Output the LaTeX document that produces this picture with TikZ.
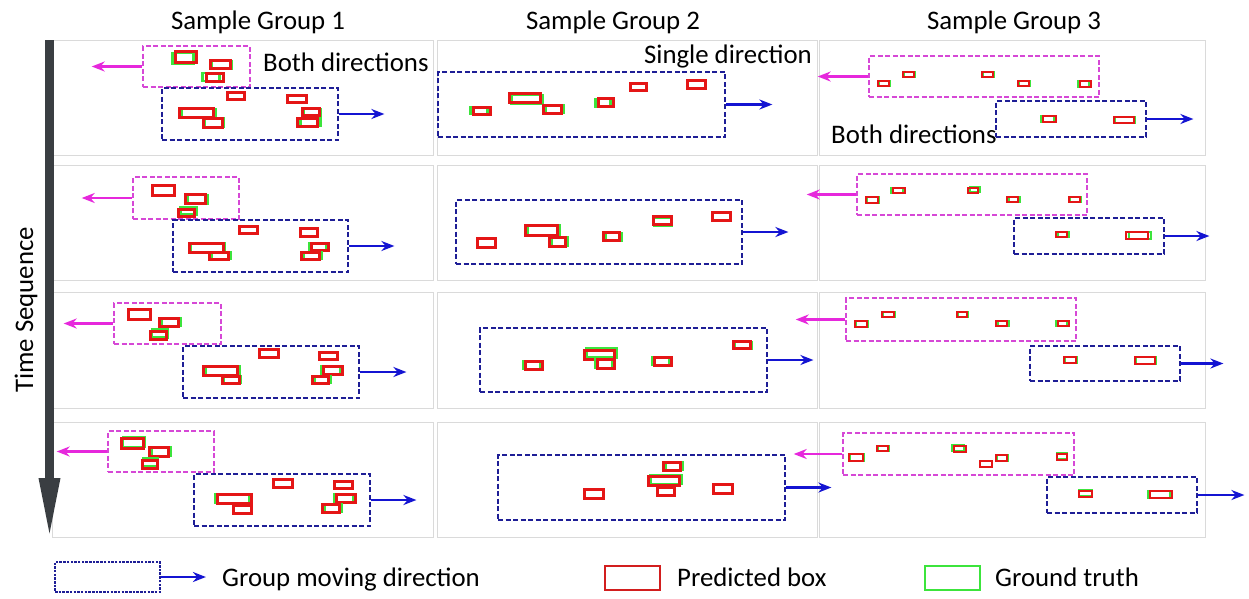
\documentclass[tikz,border=0pt]{standalone}
\usepackage{fontspec}
\setmainfont{Carlito}
\usetikzlibrary{fit,arrows.meta}
\definecolor{magc}{RGB}{214,72,214}
\definecolor{magarr}{RGB}{230,40,220}
\definecolor{bluec}{RGB}{30,30,150}
\definecolor{bluarr}{RGB}{20,20,210}
\definecolor{redc}{RGB}{228,22,22}
\definecolor{greenc}{RGB}{60,228,60}
\definecolor{tarrc}{RGB}{58,62,66}
\definecolor{panelc}{RGB}{218,218,218}
\tikzset{
  panel/.style={draw=panelc, line width=1pt},
  mgrp/.style={draw=magc, dash pattern=on 5pt off 2.5pt, line width=2.6pt, inner sep=0pt},
  bgrp/.style={draw=bluec, dash pattern=on 5pt off 2.5pt, line width=2.8pt, inner sep=0pt},
  marr/.style={draw=magarr, line width=2.3pt, -{Stealth[length=13pt,width=10pt]}},
  barr/.style={draw=bluarr, line width=2.3pt, -{Stealth[length=13pt,width=10pt]}},
  rbox/.style={draw=redc, line width=3pt},
  gbox/.style={draw=greenc, line width=2.6pt},
  small/.style={line width=2.2pt},
  lbl/.style={font=\fontsize{26.8}{32}\selectfont, inner sep=0pt},
  tarrow/.style={draw=tarrc, line width=9pt, -{Triangle[length=62pt,width=19pt]}},
}
\newcommand\bx[7][]{%
  \draw[gbox,#1,shift={({1.8*(#6)},{1.8*(#7)})}] (#2,#3) rectangle (#4,#5);
  \draw[rbox,#1] (#2,#3) rectangle (#4,#5);}
\newcommand\grpL[3]{%
  \node[mgrp, fit={#2}] (#1) {};
  \path (#1.west) ++(-#3,0) coordinate (#1t);
  \draw[marr] (#1.west) -- (#1t);}
\newcommand\grpR[3]{%
  \node[bgrp, fit={#2}] (#1) {};
  \path (#1.east) ++(#3,0) coordinate (#1t);
  \draw[barr] (#1.east) -- (#1t);}
\begin{document}
\begin{tikzpicture}[x=1pt,y=-1pt]
\useasboundingbox (0,0) rectangle (1249,598);
\fill[white] (0,0) rectangle (1249,598);
% panels
\foreach \ya/\yb in {40/155,165/280,292/408,422/537}{
  \draw[panel] (52,\ya) rectangle (433,\yb);
  \draw[panel] (437,\ya) rectangle (817,\yb);
  \draw[panel] (819,\ya) rectangle (1205,\yb);
}
% time arrow
\coordinate (ts) at (49.5,40);
\coordinate (te) at (49.5,540);
\draw[tarrow] (ts) -- (te);
\node[lbl, rotate=90, anchor=base] (tseq) at (33,310) {Time Sequence};
% headers
\node[lbl, anchor=base] (h1) at (258,29) {Sample Group 1};
\node[lbl, anchor=base] (h2) at (613,29) {Sample Group 2};
\node[lbl, anchor=base] (h3) at (1014,29) {Sample Group 3};
% ---------- row 1
\grpL{m11}{(143,46)(250,87)}{50}
\grpR{b11}{(162,88)(338,140)}{45}
\bx{175}{51}{196}{62}{-1.5}{1}
\bx{210}{60}{230}{68}{1}{0.5}
\bx{206}{73}{223}{81}{-2}{0}
\bx{227}{92}{244}{99}{0.5}{0.5}
\bx{287}{95}{306}{102}{0.5}{0}
\bx{179}{108}{213}{117}{1.5}{0.5}
\bx{203}{118}{222}{127}{1}{0}
\bx{302}{108}{319}{115}{1}{0.5}
\bx{297}{118}{317}{126}{2}{0}
\node[lbl, anchor=base west] (t11) at (263,71) {Both directions};
\grpR{b12}{(438,72)(725,137)}{46}
\bx{473}{107}{490}{114}{-1.5}{0}
\bx{509}{93}{540}{102}{1.5}{1}
\bx{543}{105}{561}{113}{1.5}{0}
\bx{598}{98}{613}{106}{-1.5}{0.5}
\bx{630}{83}{646}{90}{0.5}{0.5}
\bx{687}{80}{705}{88}{0.5}{0}
\node[lbl, anchor=base east] (t12) at (812,63) {Single direction};
\grpL{m13}{(869,56)(1099,97)}{50}
\grpR{b13}{(996,101)(1146,137)}{46}
\bx[small]{878}{81}{889}{86}{0.5}{0}
\bx[small]{903}{72}{914}{77}{0.5}{0}
\bx[small]{982}{72}{993}{77}{0.5}{0}
\bx[small]{1018}{81}{1029}{86}{0.5}{0}
\bx[small]{1080}{81}{1091}{87}{-0.8}{0}
\bx[small]{1043}{116}{1056}{122}{-1}{0}
\bx[small]{1114}{117}{1134}{123}{0.5}{0}
\node[lbl, anchor=base west] (t13) at (831,143) {Both directions};
% ---------- row 2
\grpL{m21}{(133,177)(239,219)}{50}
\grpR{b21}{(173,220)(348,272)}{45}
\bx{152}{185}{174}{195}{0.5}{0.5}
\bx{185}{194}{205}{203}{1.5}{0.5}
\bx{178}{209}{194}{216}{1.5}{-1}
\bx{239}{226}{257}{233}{0.5}{0.5}
\bx{300}{228}{317}{236}{0}{0.5}
\bx{189}{243}{223}{252}{1}{0}
\bx{209}{252}{228}{259}{1.5}{0}
\bx{311}{243}{328}{250}{-1}{0}
\bx{301}{252}{319}{259}{1.5}{0}
\grpR{b22}{(456,200)(742,264)}{45}
\bx{477}{238}{495}{247}{0.5}{0}
\bx{525}{225}{557}{235}{1.5}{0}
\bx{549}{237}{565}{246}{1.5}{0}
\bx{603}{232}{619}{240}{1.5}{0.5}
\bx{653}{216}{671}{224}{0.5}{1}
\bx{712}{212}{730}{220}{0}{0.5}
\grpL{m23}{(857,174)(1087,215)}{49}
\grpR{b23}{(1014,218)(1164,254)}{44}
\bx[small]{866}{197}{878}{203}{0.5}{0}
\bx[small]{893}{188}{905}{193}{-1}{0}
\bx[small]{968}{188}{978}{193}{1}{-0.5}
\bx[small]{1007}{197}{1018}{202}{1}{0}
\bx[small]{1069}{197}{1080}{202}{0.5}{0}
\bx[small]{1056}{232}{1067}{237}{1}{0}
\bx[small]{1126}{232}{1148}{239}{1.5}{0}
% ---------- row 3
\grpL{m31}{(114,303)(221,344)}{49}
\grpR{b31}{(183,346)(359,398)}{46}
\bx{128}{309}{150}{319}{0.5}{0.5}
\bx{159}{318}{178}{326}{1.5}{0}
\bx{150}{331}{166}{339}{1}{-1}
\bx{259}{349}{278}{357}{0.5}{0}
\bx{319}{352}{337}{359}{0.5}{0}
\bx{203}{366}{237}{375}{1.5}{0}
\bx{222}{376}{239}{383}{1}{0}
\bx{323}{366}{342}{374}{-1}{0}
\bx{312}{376}{328}{383}{1.5}{0}
\grpR{b32}{(480,328)(767,392)}{45}
\bx{525}{361}{542}{369}{-1}{0}
\bx{584}{350}{614}{359}{1.5}{-1}
\bx{597}{359}{614}{368}{-1}{0}
\bx{654}{357}{671}{365}{-1}{0}
\bx{733}{341}{750}{348}{1}{0.5}
\grpL{m33}{(846,298)(1076,341)}{49}
\grpR{b33}{(1030,346)(1180,381)}{42}
\bx[small]{855}{321}{867}{327}{0.5}{0}
\bx[small]{882}{312}{894}{317}{0.5}{0}
\bx[small]{957}{312}{967}{317}{0.5}{0}
\bx[small]{996}{321}{1007}{326}{1}{0}
\bx[small]{1058}{321}{1069}{326}{-0.8}{0}
\bx[small]{1064}{357}{1076}{363}{0.5}{0}
\bx[small]{1135}{357}{1155}{364}{0.5}{0}
% ---------- row 4
\grpL{m41}{(108,431)(214,472)}{50}
\grpR{b41}{(194,474)(370,526)}{45}
\bx{121}{438}{143}{448}{1}{-0.5}
\bx{149}{447}{168}{456}{1.5}{0}
\bx{142}{460}{157}{468}{0.5}{-1}
\bx{273}{479}{292}{487}{0.5}{0}
\bx{334}{481}{352}{488}{0}{0}
\bx{217}{494}{251}{503}{-1}{0}
\bx{233}{505}{251}{513}{0}{0}
\bx{336}{494}{355}{502}{-1}{0}
\bx{322}{504}{339}{512}{1.5}{0}
\grpR{b42}{(498,455)(785,520)}{45}
\bx{584}{489}{603}{498}{0}{0}
\bx{648}{476}{679}{485}{1.5}{-0.5}
\bx{663}{462}{680}{470}{1.5}{0}
\bx{657}{487}{674}{495}{0}{0}
\bx{713}{484}{732}{493}{0}{0}
\grpL{m43}{(843,433)(1074,475)}{48}
\grpR{b43}{(1047,477)(1197,513)}{46}
\bx[small]{849}{454}{863}{461}{0.5}{0}
\bx[small]{877}{446}{888}{451}{0.5}{0}
\bx[small]{954}{446}{966}{452}{-1.2}{-0.5}
\bx[small]{980}{461}{992}{467}{0}{0}
\bx[small]{996}{455}{1007}{461}{0.5}{0}
\bx[small]{1057}{454}{1067}{460}{0}{-0.5}
\bx[small]{1079}{491}{1092}{497}{0}{-0.5}
\bx[small]{1150}{491}{1172}{498}{-1}{0}
% ---------- legend
\node[bgrp, line width=1.8pt, dash pattern=on 2.5pt off 1.2pt, fit={(55,562)(160,592)}] (lg) {};
\path (lg.east) ++(45,0) coordinate (lgt);
\draw[barr] (lg.east) -- (lgt);
\node[lbl, anchor=base west] (lgtx) at (222,586) {Group moving direction};
\draw[rbox, draw={rgb,255:red,210;green,30;blue,30}, line width=2.6pt] (605,566) rectangle (660,590);
\node[lbl, anchor=base west] (lrtx) at (677,586) {Predicted box};
\draw[gbox, line width=2.6pt] (925,566) rectangle (980,590);
\node[lbl, anchor=base west] (lgtx2) at (995,586) {Ground truth};
\end{tikzpicture}
\end{document}
